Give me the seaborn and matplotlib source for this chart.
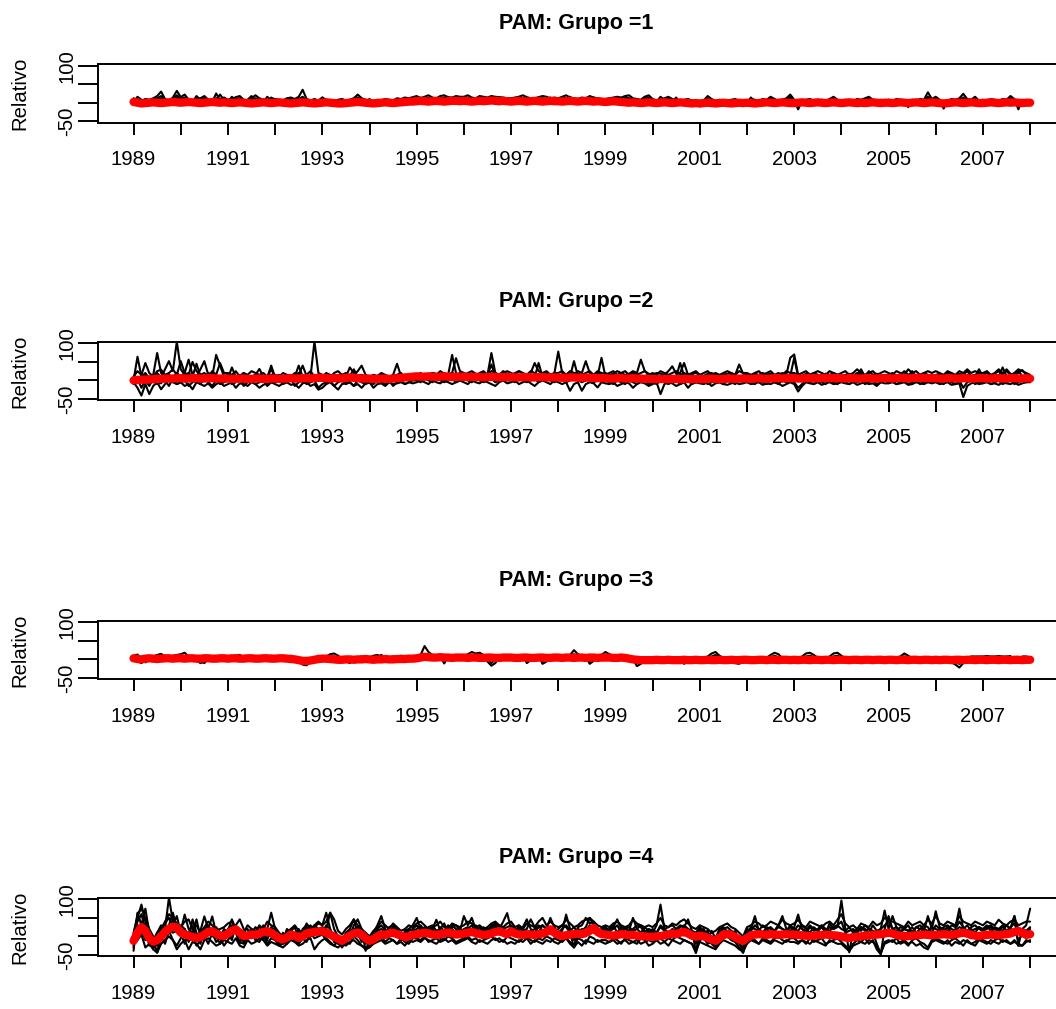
import numpy as np
import pandas as pd
import matplotlib
matplotlib.use("Agg")
import matplotlib.pyplot as plt
import seaborn as sns

# ---------------- data (monthly, Jan 1989 .. Jan 2008) ----------------
START = 1989
years = list(range(1989, 2009))
titles = ["PAM: Grupo =1", "PAM: Grupo =2", "PAM: Grupo =3", "PAM: Grupo =4"]
ylabel = "Relativo"
ytick_vals = [-50, 0, 50, 100]
ytick_labels = ["-50", "", "", "100"]

# ---- group 1 ----
g1_red = [2,0,-2,-1,0,1,0,-1,0,1,2,1,
          0,1,2,1,0,-1,0,1,2,1,0,1,
          0,-1,0,1,0,-1,-2,-1,0,1,0,-1,
          0,1,0,-1,-2,-1,0,1,0,-1,-2,-1,
          0,1,0,-1,-2,-2,-1,0,1,2,1,0,
          -1,-2,-1,0,1,0,-1,0,1,2,3,3,
          4,5,4,3,4,5,4,3,4,5,5,4,
          5,4,3,4,5,4,5,6,5,4,5,4,
          3,4,5,4,3,4,5,4,3,4,5,4,
          4,3,4,5,4,3,4,5,4,3,4,3,
          2,3,4,3,2,1,0,1,0,-1,0,1,
          0,-1,0,1,0,-1,0,1,0,-1,-2,-1,
          -2,-1,0,-1,-2,-1,0,-1,-2,-1,0,-1,
          0,-1,-2,-1,0,1,0,-1,0,1,0,-1,
          -1,0,1,0,-1,0,1,0,-1,0,1,0,
          -1,0,1,0,-1,0,-1,0,1,0,-1,0,
          0,-1,0,1,0,-1,0,1,0,-1,0,1,
          0,-1,-2,-1,0,1,0,-1,0,1,0,-1,
          -1,0,1,0,-1,0,1,0,1,0,-1,0,
          0]
g1_s1 = [12,6,5,10,8,12,18,30,10,6,14,32,
         15,22,8,6,10,12,18,8,6,12,10,14,
         8,10,15,18,8,6,12,20,12,8,6,12,
         10,8,6,12,14,10,16,35,10,6,10,6,
         14,8,6,5,8,10,6,8,12,22,12,8,
         6,5,8,6,10,8,6,12,10,14,12,15,
         18,12,16,20,14,12,18,20,15,14,18,16,
         16,20,14,12,18,16,14,18,16,15,14,12,
         12,14,16,20,15,12,12,15,18,16,12,14,
         12,16,20,14,12,10,14,12,18,14,12,10,
         10,12,14,16,14,18,20,12,10,8,16,20,
         10,6,8,12,16,10,6,5,8,10,6,5,
         -10,6,18,10,5,8,-8,5,8,10,5,4,
         5,10,8,5,10,8,16,10,5,8,12,22,
         8,-18,5,8,10,5,4,8,5,10,16,8,
         5,8,4,5,10,8,12,16,8,5,8,5,
         8,5,10,8,5,-12,8,5,10,8,28,10,
         16,8,-16,5,10,8,12,24,10,8,16,5,
         8,5,10,8,5,10,8,18,10,-18,8,5,
         4]
g1_s2 = [8,4,2,6,5,8,12,18,8,5,10,20,
         10,14,5,4,6,8,14,5,4,8,22,7,
         5,6,10,12,6,4,8,12,8,5,3,14,
         6,4,3,8,10,5,10,16,6,4,6,3,
         10,4,2,0,4,6,3,4,6,14,8,4,
         3,1,5,3,8,5,3,8,6,10,8,10,
         12,14,10,13,9,8,12,14,10,9,12,10,
         12,13,9,8,12,10,9,16,12,10,9,8,
         8,9,12,13,10,8,7,10,12,10,8,10,
         8,12,13,10,8,6,10,8,12,10,8,6,
         6,8,10,12,10,16,12,8,6,4,12,14,
         6,2,16,8,12,6,2,0,4,6,2,0,
         -4,4,10,6,2,4,-4,2,4,6,2,0,
         2,8,4,2,6,4,12,6,2,4,8,16,
         4,-8,2,4,6,2,0,4,2,6,12,4,
         2,4,0,2,6,4,8,12,4,2,4,2,
         4,2,6,4,2,-6,4,2,6,4,16,6,
         10,4,-8,2,6,4,8,14,6,4,10,2,
         4,2,6,4,2,6,4,12,6,-10,4,2,
         1]
g1_s3 = [2,16,8,4,2,6,8,12,6,4,8,14,
         8,10,4,2,18,8,10,4,2,25,6,4,
         2,16,6,4,2,8,18,6,4,2,16,6,
         4,2,-2,4,6,2,6,12,4,2,4,-2,
         14,2,-2,-4,2,4,-2,2,4,10,4,2,
         10,-2,2,-2,4,2,-2,6,4,6,4,6,
         10,12,8,10,6,4,10,12,8,6,10,8,
         10,12,8,6,10,8,6,14,10,8,6,4,
         4,6,16,10,8,6,4,8,10,8,14,8,
         6,8,10,16,6,4,8,6,10,14,6,4,
         2,4,6,8,6,10,8,6,4,2,16,8,
         4,-2,6,4,6,2,14,-4,2,4,-2,-4,
         -6,2,6,4,-2,2,-6,-2,2,4,-2,-4,
         -2,14,2,-2,4,2,8,4,-2,2,6,10,
         2,-8,-2,2,4,-2,-4,2,-2,4,14,2,
         -2,2,-4,-2,4,2,6,8,2,-2,2,-2,
         2,-2,4,2,-2,-6,2,-2,4,2,14,4,
         6,2,-8,-2,4,2,6,10,4,2,6,-2,
         2,-2,4,2,-2,4,2,10,4,-10,2,-2,
         0]

# ---- group 2 ----
g2_red = [0,1,2,2,3,3,4,4,5,5,5,6,
          6,5,5,6,6,5,5,6,6,5,5,5,
          5,4,4,5,5,4,4,5,5,4,4,5,
          5,4,5,5,6,5,5,6,6,5,6,7,
          7,6,5,6,6,5,7,8,7,6,5,5,
          5,4,4,5,5,4,5,6,7,8,9,10,
          11,10,10,11,10,9,10,11,10,9,10,10,
          10,9,9,10,9,8,9,10,9,8,9,9,
          9,8,8,9,9,8,8,9,9,8,8,8,
          8,7,7,8,8,7,7,8,7,7,6,6,
          6,5,5,6,6,5,5,6,5,5,4,4,
          4,3,4,4,3,4,4,3,4,4,3,4,
          4,3,4,5,4,3,4,5,5,4,5,5,
          5,4,5,6,5,4,5,6,6,5,6,6,
          6,5,5,6,6,5,6,6,7,6,6,6,
          6,5,6,6,5,5,6,6,5,5,6,6,
          6,5,6,7,6,5,6,7,7,6,6,6,
          6,5,5,6,6,5,5,6,6,5,5,6,
          6,5,5,6,6,5,5,6,6,5,5,6,
          5]
g2_s1 = [5,10,0,15,-5,10,20,8,30,52,25,105,
         30,15,20,10,45,12,8,20,15,10,5,12,
         15,10,8,12,20,10,8,15,12,10,8,30,
         10,15,8,12,10,20,15,40,12,10,105,20,
         15,10,8,20,25,15,10,35,20,12,15,10,
         8,12,10,15,8,10,12,15,10,8,12,15,
         12,15,18,12,20,15,25,18,15,20,60,25,
         20,15,18,12,20,25,15,74,20,15,25,18,
         15,20,25,18,15,20,47,25,18,20,15,18,
         78,20,15,25,20,18,15,20,25,15,20,18,
         20,15,18,25,20,15,18,25,20,56,25,18,
         15,20,18,15,25,38,18,20,47,15,18,20,
         15,12,18,20,15,12,15,18,20,15,43,18,
         15,12,18,15,20,15,18,12,15,20,15,61,
         70,15,12,18,15,20,15,12,18,15,20,15,
         12,15,18,12,20,15,12,25,15,18,12,15,
         15,20,12,15,25,15,18,12,15,20,15,12,
         15,18,12,20,15,12,18,15,25,12,15,18,
         15,20,12,18,25,15,30,18,15,20,28,15,
         12]
g2_s2 = [0,64,10,20,5,15,74,20,10,15,8,20,
         10,20,56,15,10,30,52,15,10,69,40,10,
         5,35,10,15,8,12,10,15,31,10,8,40,
         8,10,5,12,15,10,40,10,8,12,15,10,
         10,5,12,8,15,10,8,12,30,10,8,12,
         10,8,5,12,10,8,15,45,12,10,8,5,
         10,8,12,15,10,8,12,10,15,69,20,10,
         12,10,15,8,12,10,15,43,10,12,8,15,
         10,12,8,15,10,12,8,47,10,12,15,10,
         12,10,15,10,52,12,10,15,12,10,12,61,
         10,12,15,10,12,8,10,15,12,10,12,15,
         10,12,8,15,10,12,10,47,12,10,15,10,
         10,8,12,15,10,12,8,10,15,12,10,8,
         10,12,8,10,15,12,10,8,12,15,10,12,
         61,10,12,8,10,12,15,10,8,12,10,15,
         12,10,15,8,12,30,10,12,8,15,10,12,
         10,12,8,15,10,12,25,10,12,8,15,10,
         12,10,8,15,10,12,8,10,15,12,10,30,
         10,8,12,15,10,35,12,10,8,25,12,10,
         8]
g2_s3 = [-5,-20,-41,-10,-37,-15,-5,-24,-10,0,-5,-10,
         -5,-15,-10,-24,-5,-10,-15,-8,-20,-10,-5,-15,
         -10,-5,-20,-8,-10,-15,-5,-10,-20,-12,-8,-5,
         -10,-15,-8,-5,-12,-10,-20,-8,-5,-15,-10,-25,
         -20,-10,-5,-15,-25,-10,-8,-5,-15,-10,-20,-8,
         -5,-20,-10,-8,-15,-5,-10,-8,-5,-10,-5,-8,
         -5,0,-5,-10,0,-5,-8,0,-5,-10,-5,0,
         -5,-10,0,-5,-8,0,-5,-10,-15,-5,0,-8,
         -5,0,-10,-5,0,-8,-15,-5,0,-5,-10,0,
         -5,-10,-5,-28,-10,-5,-28,-10,-5,-8,-19,-5,
         -8,-10,-5,-15,-10,-5,-8,-20,-10,-5,-8,-15,
         -10,-5,-37,-10,-5,-8,-15,-10,-5,-20,-8,-5,
         -8,-10,-5,-15,-8,-5,-10,-12,-8,-5,-10,-8,
         -5,-10,-8,-5,-12,-8,-10,-5,-8,-15,-10,-5,
         -10,-30,-15,-5,-8,-10,-5,-12,-8,-5,-10,-8,
         -5,-8,-10,-5,-12,-8,-5,-10,-8,-15,-5,-8,
         -8,-5,-10,-8,-5,-12,-10,-5,-8,-10,-5,-8,
         -5,-10,-8,-5,-12,-10,-8,-45,-15,-8,-5,-10,
         -8,-5,-10,-8,-12,-5,-8,-10,-5,-12,-8,-5,
         -5]
g2_s4 = [10,25,15,47,20,10,25,29,15,20,30,15,
         52,20,15,50,25,15,20,10,25,15,47,20,
         20,15,25,10,20,15,25,20,15,20,10,15,
         15,10,20,15,10,15,20,12,15,25,10,15,
         10,20,15,10,12,15,20,10,15,25,40,15,
         10,15,12,20,15,10,12,15,20,10,15,12,
         15,20,12,15,20,18,15,20,15,20,15,20,
         15,20,25,18,15,20,15,25,20,15,20,25,
         20,15,25,20,15,25,20,15,20,25,15,20,
         20,25,15,20,15,25,20,52,20,15,25,20,
         15,20,25,15,20,25,15,20,15,20,25,15,
         20,15,25,20,15,20,25,15,20,15,20,25,
         15,20,25,15,20,15,20,25,20,15,25,20,
         20,15,20,25,15,20,25,15,20,15,25,20,
         20,15,20,25,15,20,25,20,15,25,20,15,
         20,25,15,20,30,20,15,20,25,15,20,25,
         20,15,25,20,15,30,20,25,15,20,25,20,
         25,20,15,25,20,15,25,20,30,20,25,20,
         20,25,15,20,30,20,25,15,20,30,25,20,
         15]
g2_s5 = [5,0,10,-5,8,0,5,-8,10,5,-5,0,
         5,10,0,5,-5,8,0,5,10,0,-5,5,
         0,5,10,0,-5,5,0,10,5,0,5,-5,
         5,0,-5,5,10,0,5,-5,0,10,5,0,
         0,-5,5,10,0,5,-5,0,5,10,0,-5,
         5,0,10,5,0,-5,5,0,10,5,0,5,
         10,5,15,10,5,10,15,5,10,15,5,10,
         15,10,5,10,15,5,10,15,10,5,10,15,
         10,5,10,15,5,10,15,10,5,10,15,10,
         5,10,15,10,5,10,15,5,10,15,10,5,
         10,5,0,10,5,0,10,5,0,10,5,10,
         5,0,10,5,0,5,10,0,5,10,0,5,
         0,5,10,0,5,0,10,5,0,5,10,0,
         5,10,0,5,10,0,5,10,5,0,10,5,
         5,0,10,5,0,10,5,0,10,5,0,10,
         5,0,10,5,10,0,5,10,0,5,10,5,
         0,5,10,5,0,10,5,0,10,5,0,10,
         5,10,0,5,10,5,0,10,5,0,10,5,
         10,5,0,10,5,0,10,5,0,10,5,0,
         5]
g2_s6 = [-10,5,-20,0,-15,5,-10,-5,0,-15,5,-10,
         -5,0,-15,-5,0,-10,5,-5,-15,0,-10,-5,
         0,-10,-5,5,-15,-5,0,-10,-5,0,-15,-5,
         -5,0,-10,-5,5,-15,-5,0,-10,-5,0,-20,
         -10,-5,0,-15,-5,0,-10,-5,-15,0,-5,-10,
         -5,-10,0,-5,-10,0,-15,-5,0,-10,-5,0,
         0,-5,5,0,-5,5,0,-5,0,5,-5,0,
         5,0,-5,5,0,-5,0,5,-5,0,5,0,
         0,-5,5,0,-5,0,5,-5,0,5,0,-5,
         0,5,-5,0,5,0,-5,0,5,-5,0,5,
         0,-5,-10,0,-5,-10,0,-5,-10,0,-5,-10,
         -5,-10,0,-5,-10,-5,0,-10,-5,0,-10,-5,
         -5,0,-10,-5,0,-5,-10,0,-5,-10,0,-5,
         0,-5,-10,0,-5,-10,0,-5,-10,0,-5,0,
         -5,-20,-10,0,-5,-10,0,-5,-10,0,-5,-10,
         0,-5,-10,0,-5,0,-10,-5,0,-10,-5,0,
         -5,0,-10,-5,0,-10,-5,0,-10,-5,0,-5,
         0,-5,-10,0,-5,-10,0,-20,-5,0,-10,-5,
         -5,0,-10,-5,0,-10,-5,0,-10,-5,0,-5,
         0]

# ---- group 3 ----
g3_red = [3,1,0,2,3,2,1,2,3,3,2,3,
          3,2,3,3,2,2,3,3,2,2,3,3,
          2,3,3,2,2,3,3,2,2,3,3,2,
          2,3,3,2,1,0,-2,-4,-4,-3,-1,1,
          2,2,1,0,-1,-1,0,0,-1,0,0,1,
          0,-1,0,0,1,0,0,1,1,1,2,2,
          3,5,7,6,5,5,6,5,5,4,5,5,
          5,4,5,5,4,4,5,5,4,4,5,5,
          5,4,4,5,5,4,4,5,5,4,4,5,
          5,4,5,5,4,5,5,4,5,5,4,5,
          5,5,4,4,5,4,2,0,-1,-2,-2,-2,
          -2,-1,-2,-2,-1,-2,-2,-2,-1,-2,-2,-1,
          -2,-2,-1,-2,-2,-1,-2,-2,-1,-2,-2,-1,
          -1,-2,-2,-1,-1,-2,-1,-1,-2,-1,-1,-2,
          -1,-2,-1,-1,-2,-1,-1,-2,-1,-1,-2,-1,
          -1,-1,-2,-1,-1,-2,-1,-1,-2,-1,-1,-2,
          -1,-1,-2,-1,-1,-2,-1,-1,-2,-1,-1,-2,
          -1,-2,-1,-1,-2,-1,-1,-2,-1,-1,-2,-1,
          -1,-2,-1,-1,-2,-1,-1,-2,-1,-1,-2,-1,
          -1]
g3_s1 = [10,13,2,-8,0,8,12,15,8,5,10,12,
         14,18,8,5,0,-5,-10,2,8,5,6,4,
         5,8,10,12,6,3,5,8,6,5,3,10,
         8,6,5,3,10,6,-6,-14,-16,-6,3,10,
         6,8,14,16,10,3,-5,-10,0,5,8,3,
         5,10,12,8,3,5,8,6,10,8,6,5,
         8,12,36,20,12,10,8,-11,8,10,12,10,
         10,14,20,16,18,12,-6,-17,-10,8,10,12,
         10,8,6,10,-10,-2,8,10,-12,-6,10,12,
         10,8,10,12,25,14,10,8,-12,-4,10,12,
         20,14,10,8,12,10,6,0,-18,-12,6,4,
         3,0,-4,2,0,-6,-3,0,-12,-6,2,0,
         -2,0,8,16,20,10,4,0,-3,-10,-12,-4,
         -2,0,3,-2,0,5,12,18,14,3,0,-2,
         0,-3,8,16,18,12,4,0,-2,8,16,18,
         10,3,0,-2,0,5,2,0,-3,0,3,0,
         -2,0,5,8,16,10,3,0,-3,-2,0,2,
         0,-2,0,3,-8,-14,-22,-10,0,8,8,8,
         8,9,8,8,9,8,8,9,-10,-8,8,8,
         5]
g3_s2 = [4,-5,-10,0,5,2,0,8,4,0,5,4,
         5,8,4,0,-3,-10,-6,0,5,4,0,5,
         4,0,5,8,4,0,4,5,2,0,5,4,
         5,4,0,2,5,0,-3,-8,-10,-3,0,4,
         2,0,5,8,4,0,-3,-6,-2,0,4,2,
         0,-2,5,12,4,0,2,0,4,2,0,2,
         5,8,14,10,8,6,5,0,6,8,9,8,
         6,9,12,9,8,6,0,-10,0,6,8,9,
         8,6,5,8,0,3,6,8,-5,0,6,8,
         6,8,9,10,14,9,8,6,-5,3,6,8,
         12,9,8,6,9,8,5,0,-10,-6,0,-2,
         0,-2,-5,0,-2,-4,-2,-4,-8,-5,-2,-4,
         -4,-2,0,8,12,5,0,-4,-5,-6,-8,-4,
         -4,-2,0,-4,-2,0,5,10,6,0,-4,-2,
         -2,-4,0,8,10,6,0,-4,-2,0,8,10,
         5,0,-2,-4,-2,0,-2,-4,-5,-2,0,-2,
         -4,-2,0,4,8,5,0,-2,-4,-2,-4,0,
         -2,-4,-2,0,-4,-8,-12,-5,-2,0,4,5,
         5,6,5,5,6,5,5,6,-5,-4,5,5,
         3]

# ---- group 4 ----
g4_red = [-12,10,25,15,-5,-14,-10,0,12,21,26,24,
          10,5,2,-2,-4,-2,5,12,14,8,2,1,
          8,15,19,10,1,2,5,4,8,12,14,10,
          2,-5,-8,-3,5,2,-4,0,8,10,12,13,
          14,10,5,-1,-6,-12,-5,2,8,10,5,-5,
          -12,-8,0,5,4,8,10,6,2,-2,0,4,
          6,8,10,8,5,4,6,9,10,8,5,6,
          8,10,12,9,6,4,5,8,12,14,10,6,
          14,8,5,4,6,5,4,6,8,12,19,10,
          4,1,3,5,6,8,6,10,15,23,12,6,
          5,3,2,4,6,5,3,4,2,1,0,-1,
          -1,0,1,3,5,8,6,10,12,8,2,-1,
          2,0,-4,-8,-12,-4,5,6,4,-2,-8,-12,
          -4,2,5,6,5,4,6,5,4,5,6,5,
          5,4,3,2,1,2,3,4,5,4,3,2,
          0,-3,-4,-2,-1,0,2,3,4,5,6,8,
          10,8,4,2,0,1,2,3,4,5,4,3,
          4,5,6,5,4,6,8,10,8,4,2,1,
          3,4,5,4,3,5,6,8,12,15,10,4,
          6]
g4_s1 = [10,50,86,40,0,-20,10,30,20,105,40,30,
         15,59,20,10,46,0,-10,20,54,10,-5,20,
         10,-10,30,46,20,-5,10,25,15,-10,20,64,
         20,-15,10,-20,15,25,-10,20,30,0,25,35,
         30,64,20,-10,0,-20,10,20,46,10,-15,-5,
         -20,10,30,55,20,0,25,10,-10,15,20,30,
         50,20,10,25,30,15,20,35,10,25,30,15,
         55,30,50,20,15,25,10,30,35,20,40,63,
         20,10,25,15,20,46,25,10,30,20,50,25,
         10,15,59,20,-10,25,30,50,35,40,20,15,
         20,10,25,46,20,10,15,50,20,10,25,15,
         10,30,86,20,10,15,20,30,25,46,15,-40,
         10,20,-10,15,-5,20,25,10,0,15,-15,-44,
         10,20,55,15,10,20,25,15,30,55,20,15,
         25,59,20,15,30,20,15,25,10,35,20,25,
         97,20,-43,15,10,25,20,10,30,15,20,70,
         20,55,25,15,20,30,10,25,20,15,55,20,
         68,25,20,15,30,25,75,20,15,25,30,20,
         15,25,30,20,15,25,30,20,55,-25,20,30,
         75]
g4_s2 = [-39,64,30,75,10,-10,-44,10,20,30,64,20,
         30,20,0,46,10,-20,20,30,10,0,-20,10,
         15,46,20,0,-15,10,20,-10,15,30,10,20,
         10,0,-20,10,20,0,-15,10,20,30,10,20,
         25,20,64,20,0,-10,-20,0,30,46,20,-39,
         -10,0,20,30,15,10,25,20,0,10,20,15,
         20,30,15,10,20,45,15,10,25,30,20,10,
         20,25,15,30,10,15,20,25,30,15,20,25,
         30,20,15,25,46,20,10,25,30,20,15,10,
         20,30,25,10,-30,20,15,25,50,30,20,10,
         15,20,30,10,25,20,15,20,30,25,10,20,
         15,10,30,20,25,30,20,15,25,20,10,-20,
         20,10,15,-20,-30,10,20,15,10,-10,-20,-30,
         10,25,20,15,30,20,10,15,25,20,15,30,
         20,15,30,20,10,25,15,30,20,15,25,30,
         20,15,25,10,20,15,30,20,10,-20,-48,20,
         55,20,15,25,20,15,10,25,30,20,15,25,
         20,15,25,30,20,15,25,20,30,15,20,25,
         20,30,15,25,20,15,30,20,55,15,20,10,
         20]
g4_s3 = [-20,-10,5,-30,-20,-35,-44,-20,-10,0,-10,-35,
         -20,-10,-35,-15,-20,-35,-10,-5,-15,-25,-20,-10,
         -15,-20,-5,-25,-30,-10,-20,-15,-5,-10,-25,-15,
         -20,-25,-30,-20,-10,-15,-25,-20,-10,-5,-35,-20,
         -10,-5,-15,-25,-30,-20,-25,-15,-10,-20,-25,-30,
         -25,-20,-15,-10,-20,-15,-10,-20,-15,-25,-10,-15,
         -10,-15,-5,-10,-15,-20,-10,-5,-15,-10,-20,-15,
         -10,-5,-15,-20,-10,-15,-20,-10,-5,-15,-10,-20,
         -15,-20,-10,-15,-5,-20,-10,-15,-20,-10,-15,-5,
         -10,-15,-5,-20,-30,-15,-25,-10,-15,-20,-10,-15,
         -20,-15,-10,-20,-15,-10,-20,-15,-10,-20,-15,-10,
         -15,-10,-20,-15,-25,-10,-15,-20,-10,-15,-20,-35,
         -15,-20,-25,-30,-35,-20,-10,-15,-20,-25,-35,-40,
         -20,-10,-15,-20,-10,-15,-20,-10,-15,-20,-10,-15,
         -15,-20,-10,-15,-20,-10,-15,-20,-25,-10,-15,-20,
         -20,-30,-40,-25,-20,-15,-20,-10,-15,-25,-45,-20,
         -15,-10,-20,-15,-10,-20,-15,-25,-20,-30,-35,-15,
         -10,-15,-20,-10,-25,-15,-20,-10,-15,-20,-25,-10,
         -15,-20,-10,-15,-20,-10,-15,-20,-10,-25,-25,-15,
         -10]
g4_s4 = [0,40,60,20,-25,-10,10,20,35,50,30,55,
         10,-20,10,30,-10,15,54,20,0,25,10,-10,
         20,30,10,-20,15,20,-5,10,30,15,-10,25,
         15,-20,-10,20,10,-15,20,0,25,10,30,20,
         10,30,20,-15,-20,-25,10,15,20,25,10,-20,
         -15,-5,15,20,10,25,30,15,5,0,15,20,
         30,15,25,10,20,5,25,15,30,20,10,20,
         15,20,30,10,25,15,10,20,25,30,10,15,
         20,10,30,20,10,15,20,30,15,10,25,20,
         10,20,30,15,25,10,20,15,30,25,15,20,
         25,15,20,30,10,20,25,15,20,30,15,10,
         20,10,25,15,10,20,15,25,30,20,15,10,
         25,15,10,-10,-5,15,20,25,15,10,-5,-20,
         20,15,30,20,10,25,20,15,30,20,15,25,
         15,30,20,10,25,15,20,30,10,25,20,30,
         40,10,15,20,10,25,15,20,15,10,20,30,
         40,20,25,10,20,15,25,10,20,30,25,10,
         30,20,15,25,10,20,40,25,15,20,10,25,
         15,20,25,10,20,30,15,25,35,10,20,15,
         25]
g4_s5 = [-25,20,10,0,-10,-20,-25,-10,5,20,10,15,
         5,10,-5,-10,0,-5,10,5,20,0,-5,5,
         0,20,10,5,-10,0,5,10,0,15,5,0,
         -5,-10,-15,0,10,5,-10,5,10,0,15,5,
         20,5,10,-5,-15,-15,0,5,15,0,-5,-15,
         -20,-10,5,10,0,15,5,0,10,-5,5,0,
         10,0,15,5,0,10,-5,15,5,0,10,5,
         0,15,5,10,0,-5,10,5,15,20,5,0,
         25,5,0,10,-5,5,10,0,5,15,25,5,
         -5,0,10,5,0,15,5,0,20,30,5,0,
         10,5,0,-5,10,0,-5,10,5,0,-5,10,
         0,-5,5,10,0,15,5,10,20,5,0,-10,
         5,0,-10,-5,-20,0,10,5,0,-10,-15,-20,
         0,5,10,0,5,-5,10,0,5,10,0,5,
         10,0,5,-5,10,0,-5,5,10,0,5,-5,
         5,-10,-5,0,5,-5,10,0,5,10,0,15,
         15,5,0,-5,10,0,5,-5,10,0,5,-5,
         10,0,15,5,0,10,15,5,0,-5,10,0,
         5,0,10,-5,5,15,0,10,20,-10,5,0,
         10]
g4_s6 = [-30,30,20,-10,10,-35,-5,0,-20,15,-10,-25,
         -5,20,-15,5,-25,-10,0,-20,10,-15,-5,-25,
         -10,5,15,-15,-20,-5,10,-10,-15,5,-20,-5,
         -10,-25,-20,-15,0,-10,-20,-5,-15,10,-5,0,
         5,-10,-20,-25,-10,-30,-15,-20,0,-10,-25,-35,
         -30,-20,-10,0,-15,-5,-10,-20,-5,-15,-20,-5,
         -5,-10,0,-15,-10,-5,-15,-10,0,-5,-15,-10,
         -5,0,-10,-5,-15,-10,-5,0,-10,-5,-15,0,
         -5,-10,-15,-5,0,-10,-15,-5,-10,0,-5,-15,
         -20,-10,-5,-15,-25,-5,-10,-20,0,-5,-15,-10,
         -10,-15,-5,-10,-20,-5,-10,-15,-20,-5,-10,-25,
         -20,-10,-5,-15,-5,-10,0,-5,-10,-15,-20,-45,
         -10,-5,-20,-15,-25,-10,-5,0,-10,-15,-30,-44,
         -15,-5,-10,-20,-5,-10,-15,-5,0,-10,-15,-5,
         -5,-15,-10,-20,-5,-15,-10,-5,-20,-15,-10,-5,
         -15,-25,-35,-20,-10,-15,-5,-20,-10,-35,-48,-15,
         -10,-15,-5,-20,-15,-25,-10,-5,-15,-20,-30,-10,
         -5,-10,-15,-20,-10,-5,-15,-25,-10,-20,-15,-5,
         -10,-15,-20,-10,-5,-15,-10,-20,-15,-20,-25,-10,
         -15]
g4_s7 = [5,60,75,50,20,0,-15,20,40,60,50,35,
         25,40,46,20,30,10,25,40,30,15,20,25,
         35,40,20,15,10,30,20,15,25,20,40,30,
         25,10,0,10,20,30,15,10,35,20,30,40,
         30,40,64,46,15,5,20,30,46,30,20,10,
         0,15,25,40,30,20,35,25,15,20,30,25,
         35,40,30,20,25,30,40,25,20,35,30,25,
         30,40,35,25,30,20,25,35,40,30,25,35,
         40,25,30,20,35,30,25,40,50,30,40,30,
         25,30,45,35,25,30,40,45,50,40,30,25,
         30,25,35,40,30,25,30,45,35,30,25,30,
         25,35,50,30,25,35,30,40,46,35,25,20,
         30,25,20,10,15,25,30,35,25,20,10,0,
         25,30,40,35,25,30,40,35,30,45,35,30,
         35,45,30,25,40,35,30,25,35,40,30,45,
         60,35,25,30,20,35,30,25,40,30,35,50,
         45,40,35,30,25,40,30,35,40,30,45,35,
         55,35,30,40,35,30,55,40,35,30,40,35,
         30,40,35,30,45,35,30,40,45,30,35,40,
         40]

groups = [
    (g1_red, [g1_s1, g1_s2, g1_s3]),
    (g2_red, [g2_s1, g2_s2, g2_s3, g2_s4, g2_s5, g2_s6]),
    (g3_red, [g3_s1, g3_s2]),
    (g4_red, [g4_s1, g4_s2, g4_s3, g4_s4, g4_s5, g4_s6, g4_s7]),
]

# ---------------- figure ----------------
sns.set_style("ticks")
plt.rcParams["font.family"] = ["Liberation Sans", "DejaVu Sans"]
plt.rcParams["text.color"] = "black"
plt.rcParams["axes.labelcolor"] = "black"
plt.rcParams["xtick.color"] = "black"
plt.rcParams["ytick.color"] = "black"

W, H = 1056, 1009
fig = plt.figure(figsize=(W / 100, H / 100), dpi=100)

tops = [64.0, 341.7, 620.7, 897.7]
box_h = 58.7
x_left, x_right = 97.7, 1066.0
FS = 14.6


def to_time(n):
    return [START + i / 12 for i in range(n)]


for k, ((red, blacks), title) in enumerate(zip(groups, titles)):
    ax = fig.add_axes([x_left / W, 1 - (tops[k] + box_h) / H,
                       (x_right - x_left) / W, box_h / H])
    rows = []
    for j, s in enumerate(blacks):
        for tt, v in zip(to_time(len(s)), s):
            rows.append((tt, v, j))
    dfb = pd.DataFrame(rows, columns=["t", "v", "s"])
    sns.lineplot(data=dfb, x="t", y="v", units="s", estimator=None,
                 color="black", lw=1.5, ax=ax, legend=False, sort=False)
    dfr = pd.DataFrame({"t": to_time(len(red)), "v": red})
    sns.lineplot(data=dfr, x="t", y="v", color="#ff0000", lw=6, ax=ax,
                 solid_capstyle="round", solid_joinstyle="round")

    ax.set_xlim(1988.24, 2008.76)
    ax.set_ylim(-54, 104.5)
    ax.set_xticks(years)
    ax.set_xticklabels([str(y) if (y % 2 == 1 and y < 2008) else "" for y in years])
    ax.set_yticks(ytick_vals)
    ax.set_yticklabels(ytick_labels, rotation=90, va="center")
    ax.set_xlabel("")
    ax.set_ylabel(ylabel, fontsize=FS, color="black")
    ax.yaxis.set_label_coords((20 - x_left) / (x_right - x_left), 0.5)
    ax.yaxis.label.set_verticalalignment("center")
    for side in ["top", "bottom", "left"]:
        ax.spines[side].set_color("black")
        ax.spines[side].set_linewidth(1.4)
    ax.spines["right"].set_visible(False)
    ax.tick_params(axis="x", length=8.6, width=1.4, pad=11, labelsize=FS,
                   colors="black", direction="out")
    ax.tick_params(axis="y", length=14.4, width=1.4, pad=1, labelsize=FS,
                   colors="black", direction="out")
    ax.grid(False)
    ax.set_title(title, fontsize=15.5, fontweight="bold", color="black",
                 x=(576 - x_left) / (x_right - x_left), pad=25)

fig.savefig("out.png", dpi=100)
